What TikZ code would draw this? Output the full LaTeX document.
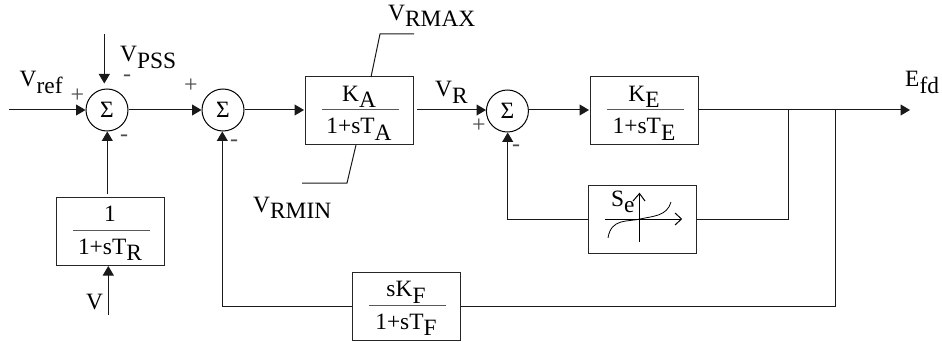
\documentclass[tikz,border=0pt]{standalone}
\usepackage{fontspec}
\setmainfont{Liberation Serif}
\usetikzlibrary{arrows.meta}
\newcommand{\SubLab}[2]{#1\raisebox{-6.5pt}{#2}}
\tikzset{
  x=1pt,y=-1pt,
  wire/.style={draw=black!90,line width=1pt},
  flow/.style={wire,-{Triangle[length=9.5pt,width=11pt]}},
  block/.style={draw=black!85,line width=1pt,minimum width=108pt,minimum height=68pt,inner sep=0pt},
  sumj/.style={circle,draw=black,line width=1pt,minimum size=42pt,inner sep=0pt,font=\fontsize{23.4}{26}\selectfont},
  lab/.style={inner sep=0pt,font=\fontsize{23.4}{26}\selectfont},
  sgn/.style={inner sep=0pt,text=black!70,font=\fontsize{24}{24}\selectfont},
  fracrule/.style={draw=black!65,line width=1pt},
}
\newcommand{\FracIn}[3]{%
  \node[lab,anchor=base] (#1num) at ([xshift=0pt,yshift=9.5pt]#1.center) {#2};
  \node[lab,anchor=base] (#1den) at ([xshift=0pt,yshift=-23pt]#1.center) {#3};
  \draw[fracrule] ([xshift=-37.5pt,yshift=1pt]#1.center) -- ([xshift=39.5pt,yshift=1pt]#1.center);
}
\begin{document}
\begin{tikzpicture}
\useasboundingbox (0,0) rectangle (942,342);
\fill[white] (0,0) rectangle (942,342);
% junctions
\node[sumj] (s1) at (107,110) {Σ};
\node[sumj] (s2) at (223,110) {Σ};
\node[sumj] (s3) at (507.4,111) {Σ};
% blocks
\node[block] (ka) at (359,111) {};
\node[block] (ke) at (644,111) {};
\node[block] (se) at (642,219.5) {};
\node[block] (tr) at (110,231) {};
\node[block] (kf) at (406,306) {};
\FracIn{ka}{\SubLab{K}{A}}{1+s\SubLab{T}{A}}
\FracIn{ke}{\SubLab{K}{E}}{1+s\SubLab{T}{E}}
\FracIn{tr}{1}{1+s\SubLab{T}{R}}
\FracIn{kf}{s\SubLab{K}{F}}{1+s\SubLab{T}{F}}
% free ends and bends
\coordinate (vrefin) at (9,110);
\coordinate (vpssin) at (104.3,34);
\coordinate (vin) at (108.3,315);
\coordinate (vrmaxa) at (414,34);
\coordinate (vrmaxb) at (380,34);
\coordinate (vrmaxc) at (371,77);
\coordinate (vrmina) at (302,183);
\coordinate (vrminb) at (347,183);
\coordinate (vrminc) at (356,145);
\coordinate (out) at (910,110);
\coordinate (tap1) at (788,110);
\coordinate (tap2) at (835,110);
\coordinate (kain) at (304,110);
\coordinate (kaout) at (417,110);
\coordinate (s3in) at (486,110);
\coordinate (s3out) at (528.5,110);
\coordinate (kein) at (589,110);
\coordinate (keout) at (698,110);
\coordinate (trout) at (107.3,194);
\coordinate (s1s) at (107.3,131.5);
\coordinate (s1n) at (104.3,83.5);
\coordinate (tri) at (108.3,266);
\coordinate (s2s) at (222.3,131.5);
\coordinate (s3s) at (507.7,132.5);
% signal connectors
\draw[flow] (vrefin) -- (s1.west);
\draw[flow] (vpssin) -- (s1n);
\draw[flow] (vin) -- (tri);
\draw[flow] (trout) -- (s1s);
\draw[flow] (s1.east) -- (s2.west);
\draw[flow] (s2.east) -- (kain);
\draw[flow] (kaout) -- (s3in);
\draw[flow] (s3out) -- (kein);
\draw[flow] (keout) -- (out);
\draw[wire] (tap1) |- (se.east);
\draw[flow] (se.west) -| (s3s);
\draw[wire] (tap2) |- (kf.east);
\draw[flow] (kf.west) -| (s2s);
% limits
\draw[wire] (vrmaxa) -- (vrmaxb) -- (vrmaxc);
\draw[wire] (vrmina) -- (vrminb) -- (vrminc);
% saturation symbol
\draw[line width=1pt] (639,242) -- (639,194);
\draw[line width=1pt] (605,219) -- (681,219);
\draw[line width=1pt] (633,201) -- (639.5,193.5) -- (645,201);
\draw[line width=1pt] (675,213) -- (681.5,219) -- (675,225);
\draw[line width=0.8pt] (608,238) .. controls (611,218) and (628,222) .. (640,219) .. controls (654,216) and (667,216) .. (671,202);
\node[lab,anchor=base west] (selab) at (611,206) {\SubLab{S}{e}};
% labels
\node[lab,anchor=base west] (vref) at (19.5,87) {\SubLab{V}{ref}};
\node[lab,anchor=base west] (vpss) at (120,62) {\SubLab{V}{PSS}};
\node[lab,anchor=base west] (v) at (86,309) {V};
\node[lab,anchor=base west] (vrmax) at (388,20.5) {\SubLab{V}{RMAX}};
\node[lab,anchor=base west] (vrmin) at (253,212) {\SubLab{V}{RMIN}};
\node[lab,anchor=base west] (vr) at (435,97) {\SubLab{V}{R}};
\node[lab,anchor=base west] (efd) at (905,87) {\SubLab{E}{fd}};
% signs
\node[sgn] (p1) at (77.5,95.5) {+};
\node[sgn] (m1) at (127,78) {-};
\node[sgn] (m2) at (124,138) {-};
\node[sgn] (p2) at (191,85.7) {+};
\node[sgn] (m3) at (234,143) {-};
\node[sgn] (p3) at (479,126) {+};
\node[sgn] (m4) at (516,148) {-};
\end{tikzpicture}
\end{document}
